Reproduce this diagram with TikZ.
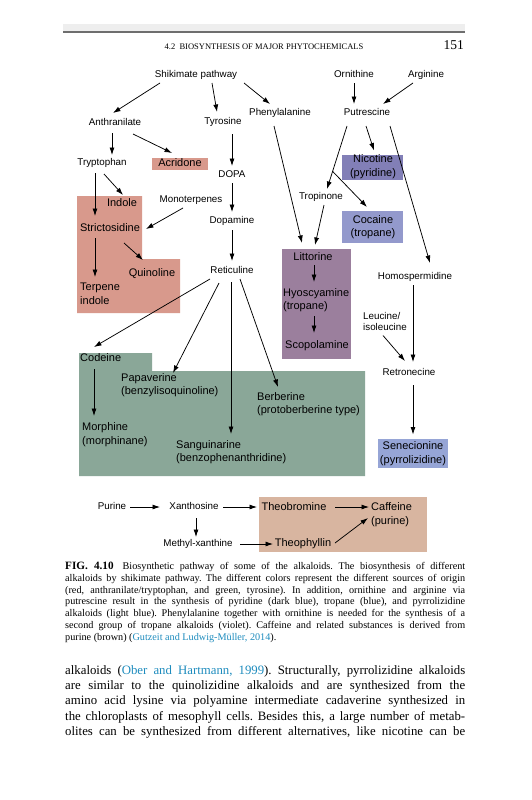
\documentclass[tikz,border=0pt]{standalone}
\usepackage{fontspec}
\setmainfont{Liberation Serif}
\newfontfamily\dsans{Liberation Sans}
\usetikzlibrary{arrows.meta,calc}
\definecolor{cred}{RGB}{216,153,140}
\definecolor{cgrn}{RGB}{138,167,152}
\definecolor{cnic}{RGB}{130,127,183}
\definecolor{ccoc}{RGB}{147,153,204}
\definecolor{cvio}{RGB}{155,127,157}
\definecolor{csen}{RGB}{150,165,214}
\definecolor{cbrn}{RGB}{216,181,160}
\definecolor{clink}{RGB}{30,140,190}
\definecolor{hdrband}{RGB}{238,238,238}
\definecolor{hdrrule}{RGB}{110,110,110}
\newcommand\jl[1]{\makebox[400pt][s]{#1}}
\frenchspacing
\begin{document}
\begin{tikzpicture}[x=1pt,y=-1pt,
  sm/.style={font=\dsans\fontsize{9.8}{11.8}\selectfont,inner sep=0pt,text height=7pt,text depth=2pt},
  smm/.style={font=\dsans\fontsize{9.8}{11.5}\selectfont,inner sep=0pt,align=left},
  lg/.style={font=\dsans\fontsize{11}{13.5}\selectfont,inner sep=0pt,text height=7.9pt,text depth=2.2pt},
  lgm/.style={font=\dsans\fontsize{11}{13.5}\selectfont,inner sep=0pt,align=left},
  lgc/.style={font=\dsans\fontsize{11}{13.5}\selectfont,inner sep=0pt,align=center},
  arr/.style={-{Latex[length=7.5pt,width=5pt]},line width=0.75pt},
  capt/.style={anchor=base west,inner sep=0pt,font=\fontsize{10.2}{11.8}\selectfont},
  bodyt/.style={anchor=base west,inner sep=0pt,font=\fontsize{12.8}{15.3}\selectfont},
]
\useasboundingbox (0,0) rectangle (531,800);
\fill[white] (0,0) rectangle (531,800);
% header
\fill[hdrband] (63,24) rectangle (465,31.5);
\fill[hdrrule] (63,31.5) rectangle (465,33.5);
\node[anchor=base,inner sep=0pt,font=\fontsize{8.5}{10}\selectfont] (hd) at (264,49) {4.2\enspace BIOSYNTHESIS OF MAJOR PHYTOCHEMICALS};
\node[anchor=base east,inner sep=0pt,font=\fontsize{13.5}{15}\selectfont] (pg) at (464,49.5) {151};
% regions
\fill[cred] (77,196) -- (142,196) -- (142,259) -- (180,259) -- (180,313) -- (77,313) -- cycle;
\fill[cred] (152,158) rectangle (208,170);
\fill[cnic] (342,155) rectangle (403,180);
\fill[ccoc] (342,211) rectangle (403,243);
\fill[cvio] (282,249) rectangle (351,359);
\fill[cgrn] (79,353) -- (152,353) -- (152,371) -- (365,371) -- (365,476) -- (79,476) -- cycle;
\fill[csen] (378,439) rectangle (448,468);
\fill[cbrn] (259,497) rectangle (427,552);
% nodes
\node[sm] (shik) at (196,75) {Shikimate pathway};
\node[sm] (orn) at (354,75) {Ornithine};
\node[sm] (arg) at (426,75) {Arginine};
\node[sm] (anth) at (115,123) {Anthranilate};
\node[sm] (tyr) at (223,122) {Tyrosine};
\node[sm] (phe) at (280,113) {Phenylalanine};
\node[sm] (put) at (367,113) {Putrescine};
\node[sm] (trp) at (102,163) {Tryptophan};
\node[lg] (acr) at (180,164) {Acridone};
\node[sm] (dopa) at (232,175) {DOPA};
\node[lgc] (nic) at (373,166.5) {Nicotine\\(pyridine)};
\node[sm] (trop) at (321,197) {Tropinone};
\node[sm] (mono) at (191,200) {Monoterpenes};
\node[lg] (indole) at (122,204) {Indole};
\node[lg] (strict) at (110,229) {Strictosidine};
\node[sm] (dopam) at (232,221) {Dopamine};
\node[lgc] (coc) at (373,227) {Cocaine\\(tropane)};
\node[lg] (litt) at (313,258) {Littorine};
\node[lg] (quin) at (152,274) {Quinoline};
\node[sm] (ret) at (232,271) {Reticuline};
\node[lgm,anchor=west] (terp) at (80,294) {Terpene\\indole};
\node[sm] (homo) at (415,277) {Homospermidine};
\node[lgm,anchor=west] (hyos) at (283,300) {Hyoscyamine\\(tropane)};
\node[smm,anchor=west] (leu) at (363,321.5) {Leucine/\\isoleucine};
\node[lg] (scop) at (317,346) {Scopolamine};
\node[lg,anchor=west] (cod) at (80,359) {Codeine};
\node[sm] (retro) at (409,373) {Retronecine};
\node[lgm,anchor=west] (pap) at (121,385) {Papaverine\\(benzylisoquinoline)};
\node[lgm,anchor=west] (berb) at (257,404) {Berberine\\(protoberberine type)};
\node[lgm,anchor=west] (morph) at (82,434.5) {Morphine\\(morphinane)};
\node[lgm,anchor=west] (sang) at (176,452) {Sanguinarine\\(benzophenanthridine)};
\node[lgc] (sen) at (413,453.5) {Senecionine\\(pyrrolizidine)};
\node[sm] (pur) at (112,507) {Purine};
\node[sm] (xan) at (194,507) {Xanthosine};
\node[lg] (theob) at (294,508) {Theobromine};
\node[lgm,anchor=west] (caff) at (371,514.5) {Caffeine\\(purine)};
\node[sm] (mx) at (198,544) {Methyl-xanthine};
\node[lg] (theoph) at (303,544) {Theophyllin};
% connectors
\draw[arr] ($(shik)+(-36,8)$) -- ($(anth)+(-2,-10)$);
\draw[arr] ($(shik)+(16,8)$) -- ($(tyr)+(-6,-10)$);
\draw[arr] ($(shik)+(48,8)$) -- ($(phe)+(-10,-9)$);
\draw[arr] ($(anth)+(-3,10)$) -- ($(trp)+(10,-8)$);
\draw[arr] ($(anth)+(18,11)$) -- ($(acr)+(-8,-11)$);
\draw[arr] ($(tyr)+(9,12)$) -- ($(dopa)+(0,-9)$);
\draw[arr] ($(trp)+(-7,10)$) -- ($(strict)+(-15,-13)$);
\draw[arr] ($(trp)+(2,11)$) -- ($(indole)+(1,-9)$);
\draw[arr] ($(mono)+(-8,8)$) -- ($(strict)+(36,0)$);
\draw[arr] ($(dopa)+(0,8)$) -- ($(dopam)+(0,-9)$);
\draw[arr] ($(dopam)+(0,9)$) -- ($(ret)+(0,-10)$);
\draw[arr] ($(strict)+(-15,9)$) -- ($(terp.west)+(15,-17)$);
\draw[arr] ($(strict)+(14,14)$) -- ($(quin)+(-9,-14)$);
\draw[arr] ($(ret)+(-22,8)$) -- ($(cod.west)+(14,-12)$);
\draw[arr] ($(ret)+(-13,12)$) -- ($(pap.west)+(52,-12)$);
\draw[arr] ($(ret)+(-1,11)$) -- ($(sang.west)+(55,-18)$);
\draw[arr] ($(ret)+(8,8)$) -- ($(berb.west)+(21,-17)$);
\draw[arr] ($(cod.west)+(14,10)$) -- ($(morph.west)+(12,-18.5)$);
\draw[arr] ($(orn)+(0,8)$) -- ($(put)+(-13,-9)$);
\draw[arr] ($(arg)+(-13,8)$) -- ($(put)+(16,-9)$);
\draw[arr] ($(put)+(-1,13)$) -- ($(nic)+(1,-16)$);
\draw[arr] ($(put)+(-20,13)$) -- coordinate[pos=0.72] (br) ($(trop)+(6,-8)$);
\draw[arr] (br) -- ($(coc)+(-6,-20)$);
\draw[arr] ($(put)+(23,13)$) -- ($(homo)+(15,-14)$);
\draw[arr] ($(phe)+(-6,13)$) -- ($(litt)+(-11,-15)$);
\draw[arr] ($(trop)+(3,8)$) -- ($(litt)+(2,-13)$);
\draw[arr] ($(litt)+(1,7)$) -- ($(hyos.west)+(31,-18)$);
\draw[arr] ($(hyos.west)+(31,16)$) -- ($(scop)+(-3,-13)$);
\draw[arr] ($(homo)+(-2,8)$) -- ($(retro)+(4,-11)$);
\draw[arr] ($(leu.west)+(20,14)$) -- ($(retro)+(-4,-12)$);
\draw[arr] ($(retro)+(4,12)$) -- ($(sen)+(0,-19)$);
\draw[arr] ($(pur)+(18,0)$) -- ($(xan)+(-34,0)$);
\draw[arr] ($(xan)+(29,0)$) -- ($(theob)+(-37,-1)$);
\draw[arr] ($(theob)+(41,-1)$) -- ($(caff.west)+(-2,-7.5)$);
\draw[arr] ($(xan)+(2,11)$) -- ($(mx)+(-2,-7)$);
\draw[arr] ($(mx)+(42,0)$) -- ($(theoph)+(-30,0)$);
\draw[arr] ($(theoph)+(32,-1)$) -- ($(caff.west)+(-3,3.5)$);
% caption
\node[capt] (c1) at (65,569.5) {\jl{{\fontsize{11.2}{11.8}\selectfont\bfseries FIG. 4.10}\hspace{9pt}Biosynthetic pathway of some of the alkaloids. The biosynthesis of different}};
\node[capt] (c2) at (65,581.3) {\jl{alkaloids by shikimate pathway. The different colors represent the different sources of origin}};
\node[capt] (c3) at (65,593.1) {\jl{(red, anthranilate/tryptophan, and green, tyrosine). In addition, ornithine and arginine via}};
\node[capt] (c4) at (65,604.9) {\jl{putrescine result in the synthesis of pyridine (dark blue), tropane (blue), and pyrrolizidine}};
\node[capt] (c5) at (65,616.7) {\jl{alkaloids (light blue). Phenylalanine together with ornithine is needed for the synthesis of a}};
\node[capt] (c6) at (65,628.5) {\jl{second group of tropane alkaloids (violet). Caffeine and related substances is derived from}};
\node[capt] (c7) at (65,640.3) {purine (brown) ({\color{clink}Gutzeit and Ludwig-Müller, 2014}).};
% body
\node[bodyt] (b1) at (65,674.3) {\jl{alkaloids ({\color{clink}Ober and Hartmann, 1999}). Structurally, pyrrolizidine alkaloids}};
\node[bodyt] (b2) at (65,689.5) {\jl{are similar to the quinolizidine alkaloids and are synthesized from the}};
\node[bodyt] (b3) at (65,704.8) {\jl{amino acid lysine via polyamine intermediate cadaverine synthesized in}};
\node[bodyt] (b4) at (65,720) {\jl{the chloroplasts of mesophyll cells. Besides this, a large number of metab-}};
\node[bodyt] (b5) at (65,735.3) {\jl{olites can be synthesized from different alternatives, like nicotine can be}};
\end{tikzpicture}
\end{document}
